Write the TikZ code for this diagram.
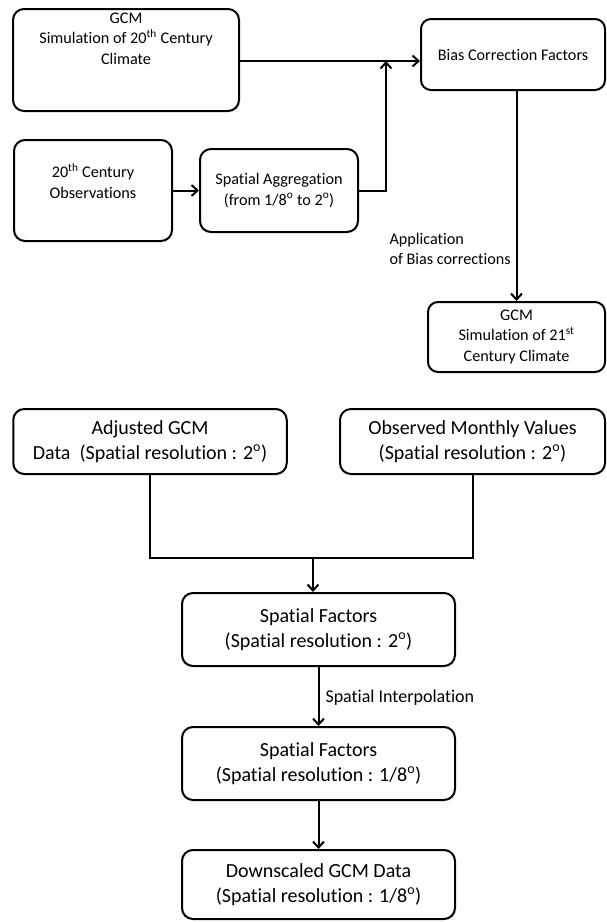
\documentclass[tikz,border=0pt]{standalone}
\usepackage{fontspec}
\setmainfont[Ligatures=NoCommon]{Carlito}
\usetikzlibrary{arrows.meta}
\tikzset{
  box/.style={rectangle,draw,line width=2pt,rounded corners=11pt,align=center,inner sep=0},
  toplab/.style={font=\fontsize{16.2}{20.5}\selectfont},
  botlab/.style={font=\fontsize{20}{25}\selectfont},
  link/.style={line width=2pt},
  flow/.style={link,-{Straight Barb[length=6pt,width=11pt,line width=2pt]}},
}
\newcommand{\degr}{\textsuperscript{o}}

\begin{document}
\begin{tikzpicture}[x=1pt,y=-1pt]
  \useasboundingbox (0,0) rectangle (607,922);
  % upper part: bias correction of the GCM
  \node[box,minimum width=226pt,minimum height=102pt] (gcm20) at (126,60) {};
  \node[toplab,anchor=north,align=center] (gcm20txt) at (126,9) {GCM\\Simulation of 20\textsuperscript{th} Century\\Climate};
  \node[box,minimum width=158pt,minimum height=101pt] (obs20) at (93,190.5) {};
  \node[toplab,align=center] (obs20txt) at (93,181) {20\textsuperscript{th} Century\\Observations};
  \node[box,toplab,minimum width=158pt,minimum height=83pt] (agg) at (279,190.5) {Spatial Aggregation\\(from 1/8\degr{} to 2\degr)};
  \node[box,toplab,minimum width=184pt,minimum height=71pt,rounded corners=10pt] (bias) at (513,54.5) {Bias Correction Factors};
  \node[box,toplab,minimum width=177pt,minimum height=70pt,rounded corners=10pt] (gcm21) at (516.5,337) {GCM\\Simulation of 21\textsuperscript{st}\\Century Climate};
  \coordinate (join) at (386,61);
  \draw[flow] (gcm20.east |- join) -- (join -| bias.west);
  \draw[flow] (obs20) -- (agg);
  \draw[flow] (agg.east) -| (join);
  \draw[flow] (bias.south -| gcm21.north) -- (gcm21.north);
  \node[toplab,anchor=west,align=left] (applab) at (386,249) {Application\\of Bias corrections};
  % lower part: spatial downscaling
  \node[box,botlab,minimum width=273.5pt,minimum height=65pt] (adj) at (150,441.5) {Adjusted GCM\\Data~~(Spatial resolution : 2\degr)};
  \node[box,botlab,minimum width=265pt,minimum height=65pt] (obsm) at (472.5,441.5) {Observed Monthly Values\\(Spatial resolution : 2\degr)};
  \node[box,botlab,minimum width=273pt,minimum height=73pt] (sf1) at (318.5,629.5) {Spatial Factors\\(Spatial resolution : 2\degr)};
  \node[box,botlab,minimum width=273pt,minimum height=73pt] (sf2) at (318.5,763.5) {Spatial Factors\\(Spatial resolution : 1/8\degr)};
  \node[box,botlab,minimum width=273pt,minimum height=69pt] (sf3) at (318.5,884.5) {Downscaled GCM Data\\(Spatial resolution : 1/8\degr)};
  \coordinate (merge) at (313,558);
  \draw[link] (adj.south) |- (merge) -| (obsm.south);
  \draw[flow] (merge) -- (merge |- sf1.north);
  \draw[flow] (sf1) -- (sf2);
  \draw[flow] (sf2) -- (sf3);
  \node[font=\fontsize{18}{22}\selectfont,anchor=west] (interplab) at (322,698) {Spatial Interpolation};
\end{tikzpicture}
\end{document}
